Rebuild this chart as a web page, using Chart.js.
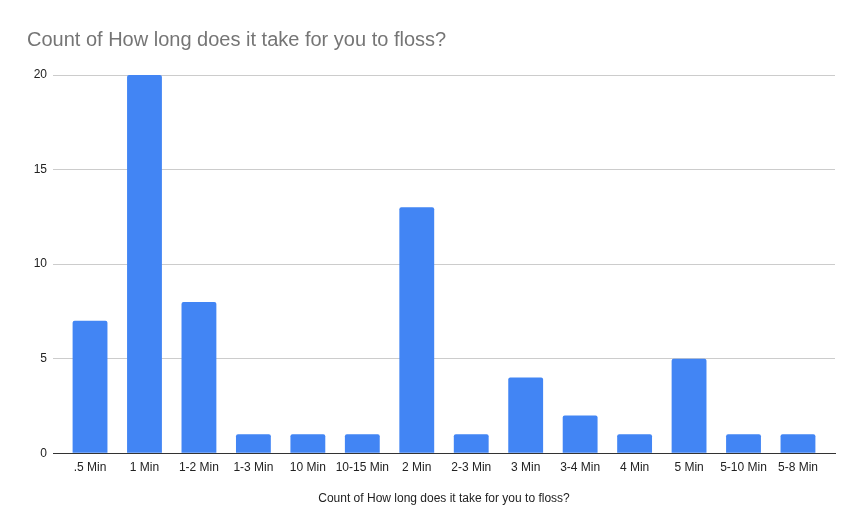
<!DOCTYPE html>
<html>
<head>
<meta charset="utf-8">
<script src="https://cdn.jsdelivr.net/npm/chart.js@4"></script>
<style>
  html, body { margin: 0; padding: 0; background: #fff; }
  canvas { display: block; }
</style>
</head>
<body>
<canvas id="myChart" width="861" height="532"></canvas>
<script>
// categories and counts
const categories = ['.5 Min', '1 Min', '1-2 Min', '1-3 Min', '10 Min', '10-15 Min', '2 Min',
                    '2-3 Min', '3 Min', '3-4 Min', '4 Min', '5 Min', '5-10 Min', '5-8 Min'];
const counts = [7, 20, 8, 1, 1, 1, 13, 1, 4, 2, 1, 5, 1, 1];
const yTicks = [0, 5, 10, 15, 20];

const titleText = 'Count of How long does it take for you to floss?';
const fontFam = '"Liberation Sans", Arial, sans-serif';
const sidePad = 0.18; // extra room at both ends of the category axis, in categories

var ctx = document.getElementById('myChart').getContext('2d');
var chart = new Chart(ctx, {
    type: 'bar',
    data: {
        labels: categories,
        datasets: [{
            label: titleText,
            data: counts,
            backgroundColor: '#4285f4',
            borderRadius: { topLeft: 2, topRight: 2 },
            borderSkipped: 'start',
            categoryPercentage: 1,
            barPercentage: 0.64
        }]
    },
    options: {
        responsive: false,
        animation: false,
        layout: { padding: { left: 27, right: 26, top: 0, bottom: 26 } },
        plugins: {
            legend: { display: false },
            tooltip: { enabled: false },
            title: {
                display: true,
                text: titleText,
                align: 'start',
                color: '#757575',
                font: { family: fontFam, size: 20, weight: 'normal' },
                padding: { top: 28, bottom: 23 }
            }
        },
        scales: {
            x: {
                afterBuildTicks: function (scale) {
                    // widen the range a little so bars sit inside the grid like the original
                    scale._startValue -= sidePad;
                    scale._valueRange += 2 * sidePad;
                },
                grid: { display: false, drawTicks: false },
                border: { display: true, color: '#333333', width: 1 },
                ticks: {
                    color: '#222222',
                    font: { family: fontFam, size: 12 },
                    padding: 7,
                    maxRotation: 0,
                    autoSkip: false
                },
                title: {
                    display: true,
                    text: titleText,
                    color: '#222222',
                    font: { family: fontFam, size: 12 },
                    padding: { top: 10, bottom: 0 }
                }
            },
            y: {
                min: 0,
                max: 20,
                afterBuildTicks: function (scale) {
                    scale.ticks = yTicks.map(v => ({ value: v }));
                },
                afterFit: function (scale) { scale.width = 26; },
                grid: {
                    drawTicks: false,
                    color: c => (c.tick && c.tick.value === 0) ? '#333333' : '#cccccc'
                },
                border: { display: false },
                ticks: {
                    color: '#222222',
                    font: { family: fontFam, size: 12 },
                    padding: 6
                }
            }
        }
    }
});
</script>
</body>
</html>
